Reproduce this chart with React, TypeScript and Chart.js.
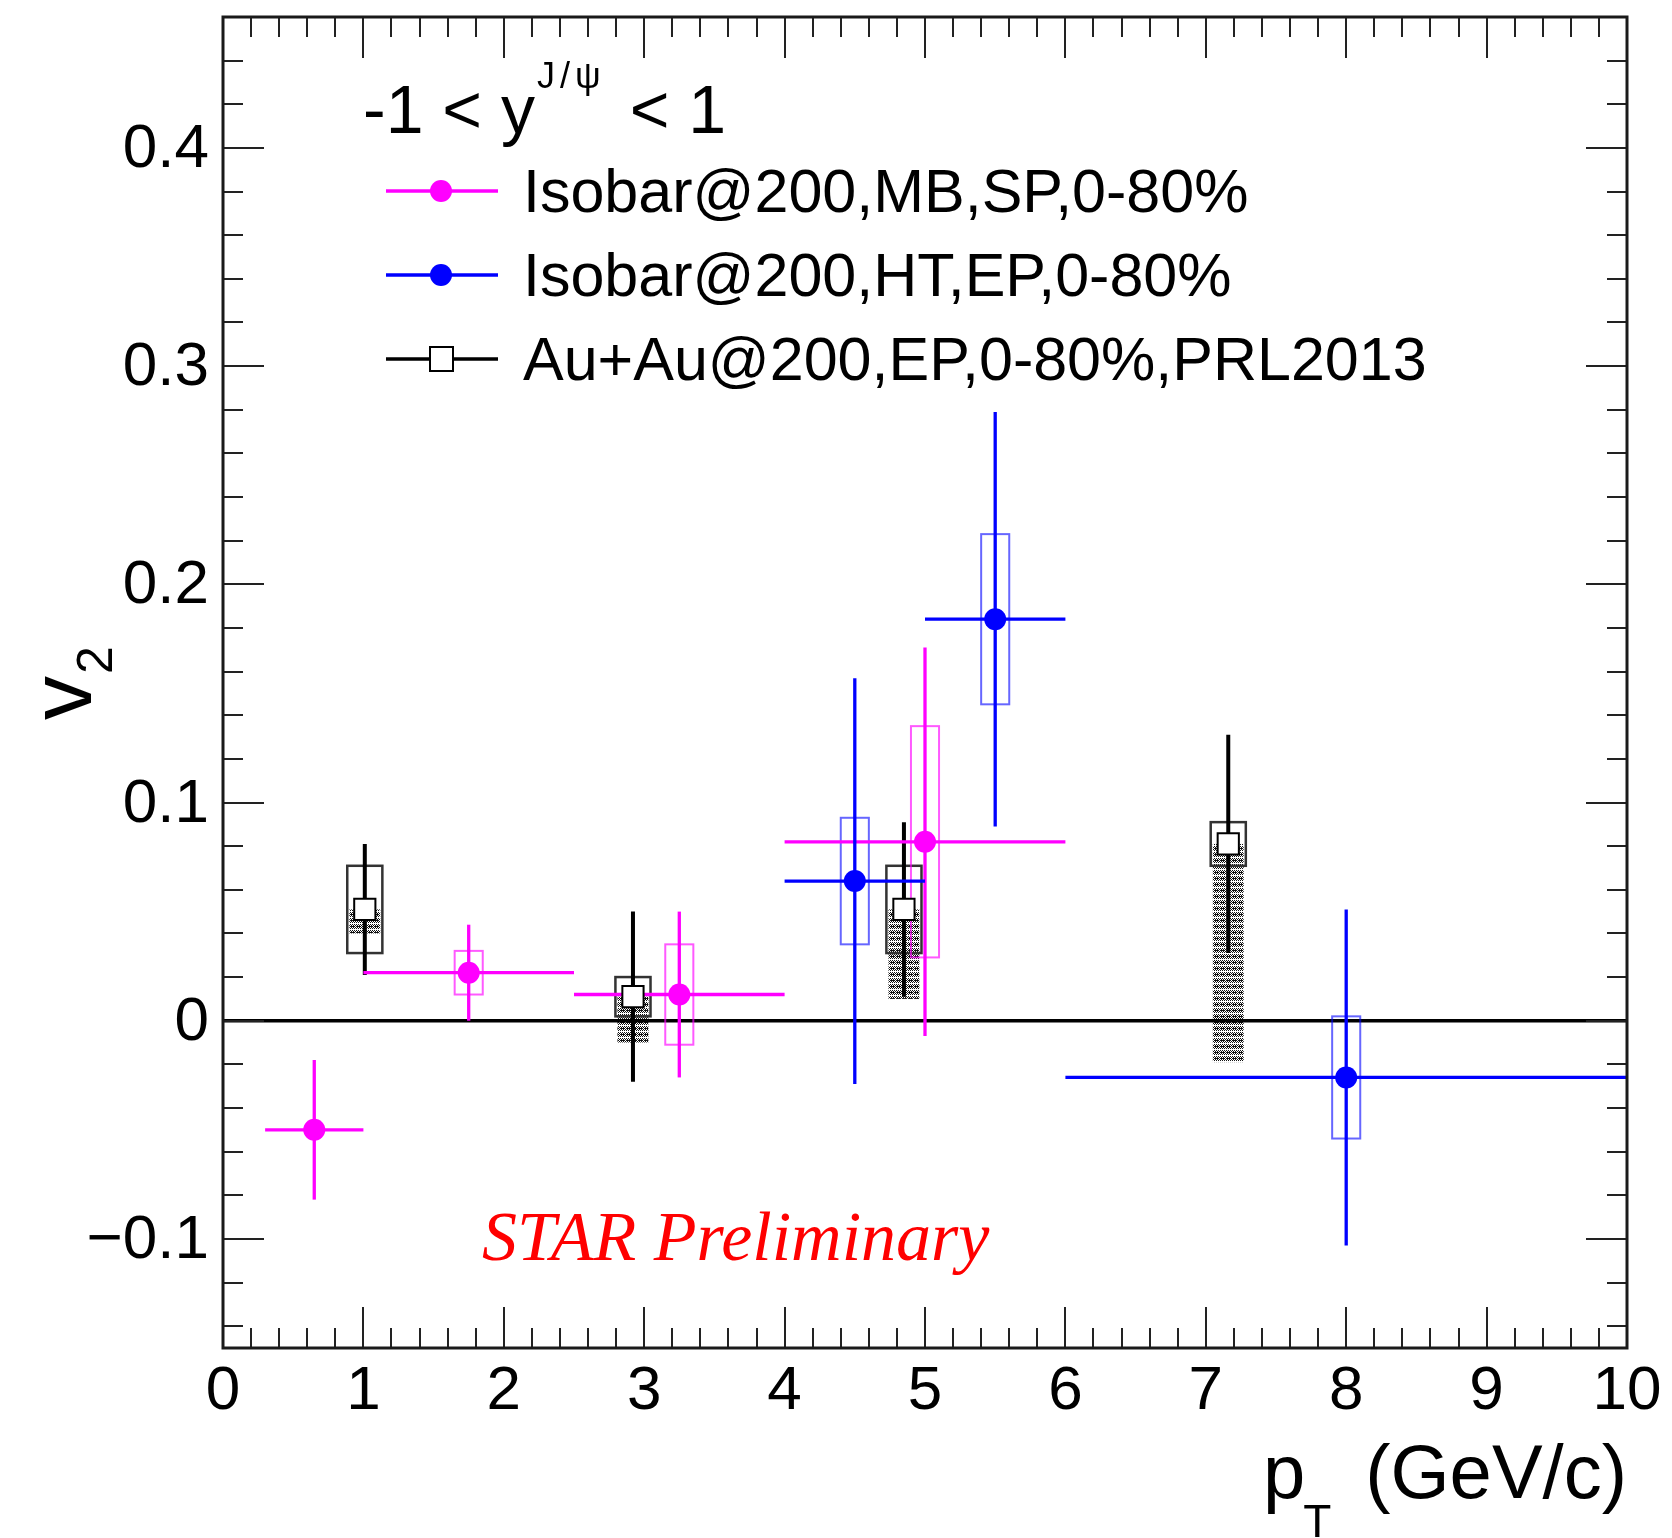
import React, { useEffect, useRef } from 'react';
import { Chart, registerables } from 'chart.js';

Chart.register(...registerables);

const W = 1672;
const H = 1538;

// ---- Axis ranges / ticks ----
const xRange = [0, 10];
const yRange = [-0.15, 0.46];
const xTickValues = [0, 1, 2, 3, 4, 5, 6, 7, 8, 9, 10];
const xTickLabels = ['0', '1', '2', '3', '4', '5', '6', '7', '8', '9', '10'];
const yTickValues = [-0.1, 0, 0.1, 0.2, 0.3, 0.4];
const yTickLabels = ['\u22120.1', '0', '0.1', '0.2', '0.3', '0.4'];

// ---- Series labels ----
const seriesLabels = [
  'Isobar@200,MB,SP,0-80%',
  'Isobar@200,HT,EP,0-80%',
  'Au+Au@200,EP,0-80%,PRL2013',
];

// ---- Isobar@200, MB, SP (magenta) ----
const mbPt = [0.65, 1.75, 3.25, 5.0];
const mbPtLow = [0.3, 1.0, 2.5, 4.0];
const mbPtHigh = [1.0, 2.5, 4.0, 6.0];
const mbV2 = [-0.05, 0.022, 0.012, 0.082];
const mbStat = [0.032, 0.022, 0.038, 0.089];
const mbSys = [0, 0.01, 0.023, 0.053];

// ---- Isobar@200, HT, EP (blue) ----
const htPt = [4.5, 5.5, 8.0];
const htPtLow = [4.0, 5.0, 6.0];
const htPtHigh = [5.0, 6.0, 10.0];
const htV2 = [0.064, 0.184, -0.026];
const htStat = [0.093, 0.095, 0.077];
const htSys = [0.029, 0.039, 0.028];

// ---- Au+Au@200, EP, PRL2013 (black) ----
const auPt = [1.01, 2.92, 4.85, 7.16];
const auV2 = [0.051, 0.011, 0.051, 0.081];
const auStat = [0.03, 0.039, 0.04, 0.05];
const auSys = [0.02, 0.009, 0.02, 0.01];
const auNonFlow = [0.011, 0.021, 0.041, 0.1];

const MAGENTA = '#ff00ff';
const BLUE = '#0000ff';
const SANS = '"Liberation Sans", Arial, Helvetica, sans-serif';
const SERIF = '"Liberation Serif", "Times New Roman", serif';

function makeHatch(ctx: CanvasRenderingContext2D) {
  const c = document.createElement('canvas');
  c.width = 6;
  c.height = 6;
  const g = c.getContext('2d')!;
  g.fillStyle = '#ffffff';
  g.fillRect(0, 0, 6, 6);
  g.fillStyle = '#111111';
  for (let y = 0; y < 5; y++) {
    for (let x = 0; x < 6; x++) {
      if ((x + y) % 2 === 0 || (y === 2 && x % 3 !== 1)) g.fillRect(x, y, 1, 1);
    }
  }
  return ctx.createPattern(c, 'repeat');
}

export default function App() {
  const ref = useRef<HTMLCanvasElement>(null);

  useEffect(() => {
    const canvas = ref.current!;
    const ctx0 = canvas.getContext('2d')!;
    const hatch = makeHatch(ctx0);

    const rootStyle = {
      id: 'rootStyle',
      beforeDraw(chart: any) {
        const ctx = chart.ctx;
        ctx.save();
        ctx.fillStyle = '#ffffff';
        ctx.fillRect(0, 0, chart.width, chart.height);
        ctx.restore();
      },
      beforeDatasetsDraw(chart: any) {
        const ctx: CanvasRenderingContext2D = chart.ctx;
        const xs = chart.scales.x;
        const ys = chart.scales.y;
        const ca = chart.chartArea;
        const px = (v: number) => xs.getPixelForValue(v);
        const py = (v: number) => ys.getPixelForValue(v);
        ctx.save();

        // non-flow (hatched, downward) for Au+Au
        ctx.fillStyle = hatch as any;
        auPt.forEach((x, i) => {
          const x1 = px(x - 0.11);
          const x2 = px(x + 0.11);
          const y1 = py(auV2[i]);
          const y2 = py(auV2[i] - auNonFlow[i]);
          ctx.fillRect(x1, y1, x2 - x1, y2 - y1);
        });

        // zero line
        ctx.strokeStyle = '#000';
        ctx.lineWidth = 3.5;
        ctx.beginPath();
        ctx.moveTo(ca.left, py(0));
        ctx.lineTo(ca.right, py(0));
        ctx.stroke();

        const box = (x: number, v: number, s: number, hw: number, color: string, lw: number) => {
          if (!s) return;
          const x1 = px(x - hw);
          const x2 = px(x + hw);
          const y1 = py(v + s);
          const y2 = py(v - s);
          ctx.strokeStyle = color;
          ctx.lineWidth = lw;
          ctx.strokeRect(x1, y1, x2 - x1, y2 - y1);
        };
        const line = (x1: number, y1: number, x2: number, y2: number, color: string, lw: number) => {
          ctx.strokeStyle = color;
          ctx.lineWidth = lw;
          ctx.beginPath();
          ctx.moveTo(x1, y1);
          ctx.lineTo(x2, y2);
          ctx.stroke();
        };

        // systematic boxes
        auPt.forEach((x, i) => box(x, auV2[i], auSys[i], 0.125, '#333', 2.5));
        mbPt.forEach((x, i) => box(x, mbV2[i], mbSys[i], 0.1, 'rgba(255,0,255,0.65)', 2));
        htPt.forEach((x, i) => box(x, htV2[i], htSys[i], 0.1, 'rgba(0,0,255,0.6)', 2));

        // error bars
        auPt.forEach((x, i) => {
          line(px(x), py(auV2[i] + auStat[i]), px(x), py(auV2[i] - auStat[i]), '#000', 4);
        });
        mbPt.forEach((x, i) => {
          line(px(mbPtLow[i]), py(mbV2[i]), px(mbPtHigh[i]), py(mbV2[i]), MAGENTA, 3.3);
          line(px(x), py(mbV2[i] + mbStat[i]), px(x), py(mbV2[i] - mbStat[i]), MAGENTA, 3.3);
        });
        htPt.forEach((x, i) => {
          line(px(htPtLow[i]), py(htV2[i]), px(htPtHigh[i]), py(htV2[i]), BLUE, 3.3);
          line(px(x), py(htV2[i] + htStat[i]), px(x), py(htV2[i] - htStat[i]), BLUE, 3.3);
        });
        ctx.restore();
      },
      afterDraw(chart: any) {
        const ctx: CanvasRenderingContext2D = chart.ctx;
        const xs = chart.scales.x;
        const ys = chart.scales.y;
        const ca = chart.chartArea;
        const px = (v: number) => xs.getPixelForValue(v);
        const py = (v: number) => ys.getPixelForValue(v);
        ctx.save();

        // ticks (inside, all four sides)
        ctx.strokeStyle = '#222';
        ctx.lineWidth = 2;
        const MAJ = 41;
        const MIN = 20;
        for (let i = 0; i <= 50; i++) {
          const v = xRange[0] + i * 0.2;
          const len = i % 5 === 0 ? MAJ : MIN;
          const x = Math.round(px(v));
          ctx.beginPath();
          ctx.moveTo(x, ca.bottom);
          ctx.lineTo(x, ca.bottom - len);
          ctx.moveTo(x, ca.top);
          ctx.lineTo(x, ca.top + len);
          ctx.stroke();
        }
        for (let i = -7; i <= 23; i++) {
          const v = i * 0.02;
          if (v < yRange[0] || v > yRange[1]) continue;
          const len = i % 5 === 0 ? MAJ : MIN;
          const y = Math.round(py(v));
          ctx.beginPath();
          ctx.moveTo(ca.left, y);
          ctx.lineTo(ca.left + len, y);
          ctx.moveTo(ca.right, y);
          ctx.lineTo(ca.right - len, y);
          ctx.stroke();
        }

        // frame
        ctx.strokeStyle = '#1a1a1a';
        ctx.lineWidth = 3;
        ctx.strokeRect(ca.left, ca.top, ca.right - ca.left, ca.bottom - ca.top);

        // tick labels
        ctx.fillStyle = '#000';
        ctx.font = `62px ${SANS}`;
        ctx.textAlign = 'center';
        ctx.textBaseline = 'alphabetic';
        xTickValues.forEach((v, i) => {
          ctx.fillText(xTickLabels[i], px(v), ca.bottom + 61);
        });
        ctx.textAlign = 'right';
        ctx.textBaseline = 'middle';
        yTickValues.forEach((v, i) => {
          ctx.fillText(yTickLabels[i], ca.left - 14, py(v) + 2);
        });

        // x title: p_T (GeV/c)
        ctx.textBaseline = 'alphabetic';
        ctx.textAlign = 'left';
        ctx.font = `76px ${SANS}`;
        ctx.fillText('p', 1263, 1498);
        const pw = ctx.measureText('p').width;
        ctx.font = `46px ${SANS}`;
        ctx.fillText('T', 1263 + pw - 2, 1537);
        ctx.font = `76px ${SANS}`;
        ctx.textAlign = 'right';
        ctx.fillText('(GeV/c)', ca.right, 1498);

        // y title: v_2
        ctx.save();
        ctx.translate(91, 720);
        ctx.rotate(-Math.PI / 2);
        ctx.textAlign = 'left';
        ctx.font = `88px ${SANS}`;
        ctx.fillText('v', 0, 0);
        const vw = ctx.measureText('v').width;
        ctx.font = `50px ${SANS}`;
        ctx.fillText('2', vw + 2, 21);
        ctx.restore();

        // legend header: -1 < y^{J/psi} < 1
        ctx.textAlign = 'left';
        ctx.textBaseline = 'alphabetic';
        ctx.font = `68px ${SANS}`;
        const hx = 363;
        ctx.fillText('-1 < y', hx, 133);
        const w1 = ctx.measureText('-1 < y').width;
        ctx.font = `36px ${SANS}`;
        (ctx as any).letterSpacing = '5px';
        const supX = hx + w1 + 2;
        ctx.fillText('J/\u03c8', supX, 88);
        const w2 = ctx.measureText('J/\u03c8').width;
        (ctx as any).letterSpacing = '0px';
        ctx.font = `68px ${SANS}`;
        ctx.fillText('< 1', supX + w2 + 24, 133);

        // legend entries
        const legY = [191, 275, 359];
        const legColors = [MAGENTA, BLUE, '#000'];
        legY.forEach((y, i) => {
          ctx.strokeStyle = legColors[i];
          ctx.lineWidth = 3.3;
          ctx.beginPath();
          ctx.moveTo(386, y);
          ctx.lineTo(498, y);
          ctx.stroke();
          if (i < 2) {
            ctx.fillStyle = legColors[i];
            ctx.beginPath();
            ctx.arc(441, y, 11, 0, Math.PI * 2);
            ctx.fill();
          } else {
            ctx.fillStyle = '#fff';
            ctx.fillRect(430, y - 12, 23, 24);
            ctx.strokeStyle = '#000';
            ctx.lineWidth = 2;
            ctx.strokeRect(430, y - 12, 23, 24);
          }
          ctx.fillStyle = '#000';
          ctx.font = `61px ${SANS}`;
          ctx.fillText(seriesLabels[i], 523, y + 21);
        });

        // STAR Preliminary
        ctx.fillStyle = '#ff0000';
        ctx.font = `italic 70px ${SERIF}`;
        ctx.fillText('STAR Preliminary', 482, 1260);

        ctx.restore();
      },
    };

    const chart = new Chart(canvas, {
      type: 'scatter',
      data: {
        datasets: [
          {
            label: seriesLabels[0],
            data: mbPt.map((x, i) => ({ x, y: mbV2[i] })),
            pointStyle: 'circle',
            pointRadius: 11,
            backgroundColor: MAGENTA,
            borderColor: MAGENTA,
            borderWidth: 0,
          },
          {
            label: seriesLabels[1],
            data: htPt.map((x, i) => ({ x, y: htV2[i] })),
            pointStyle: 'circle',
            pointRadius: 11,
            backgroundColor: BLUE,
            borderColor: BLUE,
            borderWidth: 0,
          },
          {
            label: seriesLabels[2],
            data: auPt.map((x, i) => ({ x, y: auV2[i] })),
            pointStyle: 'rect',
            pointRadius: 15,
            backgroundColor: '#ffffff',
            borderColor: '#000000',
            borderWidth: 2,
          },
        ],
      },
      options: {
        responsive: false,
        maintainAspectRatio: false,
        devicePixelRatio: 1,
        animation: false,
        layout: { padding: { left: 223, right: W - 1627, top: 15, bottom: H - 1348 } },
        scales: {
          x: { type: 'linear', min: xRange[0], max: xRange[1], display: false },
          y: { type: 'linear', min: yRange[0], max: yRange[1], display: false },
        },
        plugins: {
          legend: { display: false },
          tooltip: { enabled: false },
        },
      },
      plugins: [rootStyle],
    } as any);

    return () => chart.destroy();
  }, []);

  return (
    <div style={{ position: 'absolute', left: 0, top: 0, width: W, height: H, background: '#fff' }}>
      <canvas ref={ref} width={W} height={H} style={{ width: W, height: H, display: 'block' }} />
    </div>
  );
}
